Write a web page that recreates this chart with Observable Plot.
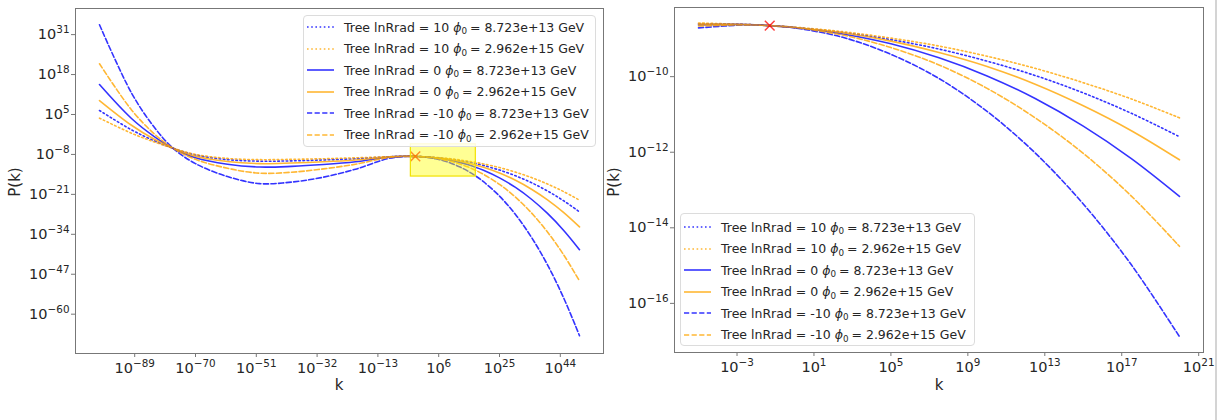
<!DOCTYPE html>
<html><head><meta charset="utf-8">
<script src="https://cdn.jsdelivr.net/npm/d3@7"></script>
<script src="https://cdn.jsdelivr.net/npm/@observablehq/plot@0.6"></script>
<style>
body{margin:0;background:#fff;}
#wrap{position:relative;width:1224px;height:420px;overflow:hidden;font-family:"DejaVu Sans",sans-serif;color:#262626;}
#wrap svg.plot{position:absolute;top:0;}
.legend{position:absolute;background:rgba(255,255,255,0.85);border:1px solid #dcdcdc;border-radius:4px;box-sizing:border-box;}
.row{position:absolute;left:0;height:20px;display:flex;align-items:center;font-size:12.5px;color:#262626;white-space:nowrap;}
.row svg{margin-left:3px;margin-right:10px;}
.lab{position:absolute;font-size:15px;color:#262626;white-space:nowrap;transform:translate(-50%,-50%);}
.rot{transform:translate(-50%,-50%) rotate(-90deg);}
.sub{font-size:0.7em;position:relative;top:0.3em;margin-right:3px;}
</style></head><body><div id="wrap"></div><script>
// ---------- data (log10 values) ----------
const logK = [-100,-90,-83,-77,-70,-60,-50,-40,-30,-20,-10,-5,-2.5,-1.3,0,2.5,5,7.5,10,12.5,15,17.5,20,25,30,35,40,45,50];
// lnRrad = 10, phi0 = 8.723e+13
const logP_r10_a  = [6.3,0.0,-3.5,-6,-8.2,-9.7,-10.2,-10.1,-9.8,-9.4,-8.8,-8.60,-8.62,-8.65,-8.70,-8.83,-9.02,-9.27,-9.59,-9.97,-10.43,-10.97,-11.59,-13.09,-14.95,-17.21,-19.9,-23.06,-26.7];
// lnRrad = 10, phi0 = 2.962e+15
const logP_r10_b  = [3.8,-1.1,-3.9,-6,-8.0,-9.3,-9.7,-9.6,-9.4,-9.1,-8.75,-8.58,-8.62,-8.65,-8.69,-8.81,-8.98,-9.19,-9.46,-9.78,-10.16,-10.59,-11.09,-12.28,-13.76,-15.53,-17.64,-20.08,-22.9];
// lnRrad = 0, phi0 = 8.723e+13
const logP_r0_a   = [14.75,3.7,-2.1,-6,-9.1,-11.2,-12.1,-11.9,-11.3,-10.4,-8.9,-8.63,-8.62,-8.65,-8.70,-8.87,-9.13,-9.50,-9.98,-10.58,-11.31,-12.17,-13.17,-15.63,-18.75,-22.59,-27.21,-32.66,-39.0];
// lnRrad = 0, phi0 = 2.962e+15
const logP_r0_b   = [9.55,1.5,-3.0,-6,-8.6,-10.3,-11.0,-10.8,-10.4,-9.8,-8.85,-8.61,-8.62,-8.65,-8.70,-8.84,-9.06,-9.36,-9.73,-10.20,-10.77,-11.43,-12.20,-14.07,-16.43,-19.32,-22.79,-26.86,-31.6];
// lnRrad = -10, phi0 = 8.723e+13
const logP_rm10_a = [34.2,12.0,1.0,-6,-11.0,-15.2,-17.5,-17.0,-15.4,-12.8,-9.4,-8.71,-8.63,-8.65,-8.71,-8.96,-9.41,-10.05,-10.92,-12.02,-13.37,-14.98,-16.88,-21.57,-27.57,-34.99,-43.95,-54.59,-67.0];
// lnRrad = -10, phi0 = 2.962e+15
const logP_rm10_b = [21.5,6.5,-1.2,-6,-9.6,-12.5,-14.1,-13.8,-12.7,-11.2,-9.05,-8.66,-8.63,-8.65,-8.70,-8.90,-9.23,-9.69,-10.31,-11.09,-12.03,-13.16,-14.49,-17.75,-21.91,-27.05,-33.25,-40.6,-49.2];

const seriesLnRrad = [10, 10, 0, 0, -10, -10];
const seriesPhi0 = ["8.723e+13", "2.962e+15", "8.723e+13", "2.962e+15", "8.723e+13", "2.962e+15"];
const seriesValues = [logP_r10_a, logP_r10_b, logP_r0_a, logP_r0_b, logP_rm10_a, logP_rm10_b];

const pivotLogK = -1.3, pivotLogP = -8.65;
const zoomBoxLogK = [-2.7, 17.6], zoomBoxLogP = [-15.2, -4.7];

const leftXTicks = [-89,-70,-51,-32,-13,6,25,44];
const leftYTicks = [31,18,5,-8,-21,-34,-47,-60];
const rightXTicks = [-3,1,5,9,13,17,21];
const rightYTicks = [-10,-12,-14,-16];
const rightKRange = [-5, 20];

// ---------- styles ----------
const seriesColor = ["blue","orange","blue","orange","blue","orange"];
const seriesDash = ["1.6 2.6","1.6 2.6",null,null,"5.2 2.4","5.2 2.4"];

// ---------- build ----------
const rows = [];
seriesValues.forEach((vals, s) => logK.forEach((lk, j) => rows.push({s, lk, k: 10 ** lk, p: 10 ** vals[j]})));
const rightRows = rows.filter(d => d.lk >= rightKRange[0] && d.lk <= rightKRange[1]);

function lineMarks(data) {
  return seriesValues.map((_, s) => Plot.line(data.filter(d => d.s === s), {
    x: "k", y: "p", stroke: seriesColor[s], strokeOpacity: 0.8, strokeWidth: 1.6,
    strokeDasharray: seriesDash[s] || undefined, curve: "catmull-rom"
  }));
}
const fmt = e => "10^" + e;
function axes(xt, yt) {
  return [
    Plot.axisX({ticks: xt.map(e => 10 ** e), tickFormat: d => fmt(Math.round(Math.log10(d))), tickSize: 4, tickPadding: 5, label: null, stroke: "#777"}),
    Plot.axisY({ticks: yt.map(e => 10 ** e), tickFormat: d => fmt(Math.round(Math.log10(d))), tickSize: 4, tickPadding: 2, label: null, stroke: "#777"})
  ];
}
const pivot = [{k: 10 ** pivotLogK, p: 10 ** pivotLogP}];
const common = {style: {fontFamily: "DejaVu Sans", fontSize: "14.5px", color: "#262626", background: "transparent", overflow: "visible"}};

const left = Plot.plot({
  ...common, width: 612, height: 420,
  marginLeft: 75, marginRight: 9, marginTop: 8, marginBottom: 67,
  x: {type: "log", domain: [10 ** -107.5, 10 ** 57.5], axis: null},
  y: {type: "log", domain: [10 ** -72.8, 10 ** 39.5], axis: null},
  marks: [
    ...lineMarks(rows),
    Plot.dot(pivot, {x: "k", y: "p", symbol: "times", r: 4.5, stroke: "red", strokeOpacity: 0.75, strokeWidth: 1.5}),
    Plot.rect([{x1: 10 ** zoomBoxLogK[0], x2: 10 ** zoomBoxLogK[1], y1: 10 ** zoomBoxLogP[0], y2: 10 ** zoomBoxLogP[1]}],
      {x1: "x1", x2: "x2", y1: "y1", y2: "y2", fill: "yellow", fillOpacity: 0.42, stroke: "#f2e200", strokeWidth: 1.2}),
    ...axes(leftXTicks, leftYTicks),
    Plot.frame({stroke: "#777"})
  ]
});
const right = Plot.plot({
  ...common, width: 612, height: 420,
  marginLeft: 62, marginRight: 21, marginTop: 7, marginBottom: 68,
  x: {type: "log", domain: [10 ** -6.25, 10 ** 21.25], axis: null},
  y: {type: "log", domain: [10 ** -17.3, 10 ** -8.17], axis: null},
  marks: [
    ...lineMarks(rightRows),
    Plot.dot(pivot, {x: "k", y: "p", symbol: "times", r: 4.5, stroke: "red", strokeOpacity: 0.75, strokeWidth: 1.5}),
    ...axes(rightXTicks, rightYTicks),
    Plot.frame({stroke: "#777"})
  ]
});

function supify(svg) {
  d3.select(svg).selectAll("text").each(function () {
    const t = this.textContent;
    if (t.startsWith("10^")) {
      const exp = t.slice(3).replace("-", "\u2212");
      const sel = d3.select(this);
      sel.text(null);
      sel.append("tspan").text("10");
      sel.append("tspan").attr("dy", "-6px").attr("font-size", "10.4px").text(exp);
    }
  });
}
const wrap = document.getElementById("wrap");
[left, right].forEach((svg, i) => {
  svg.classList.add("plot");
  svg.style.left = (i * 612) + "px";
  supify(svg);
  wrap.appendChild(svg);
});

function addLabel(text, x, y, rot) {
  const d = document.createElement("div");
  d.className = "lab" + (rot ? " rot" : "");
  d.style.left = x + "px"; d.style.top = y + "px";
  d.textContent = text;
  wrap.appendChild(d);
}
addLabel("P(k)", 15, 182, true);
addLabel("k", 339, 385);
addLabel("P(k)", 614, 182, true);
addLabel("k", 939, 385);

function addLegend(x, y, w, h, firstRow) {
  const box = document.createElement("div");
  box.className = "legend";
  Object.assign(box.style, {left: x + "px", top: y + "px", width: w + "px", height: h + "px"});
  seriesLnRrad.forEach((r, i) => {
    const row = document.createElement("div");
    row.className = "row";
    row.style.top = (firstRow + i * 21.5 - 10) + "px";
    const dash = seriesDash[i] ? `stroke-dasharray="${seriesDash[i]}"` : "";
    row.innerHTML = `<svg width="27" height="20"><line x1="0" x2="27" y1="10" y2="10" stroke="${seriesColor[i]}" stroke-opacity="0.8" stroke-width="1.6" ${dash}/></svg>` +
      `<span>Tree lnRrad = ${r} <i>ϕ</i><span class="sub">0</span>= ${seriesPhi0[i]} GeV</span>`;
    box.appendChild(row);
  });
  wrap.appendChild(box);
}
addLegend(303, 15, 293, 132, 11);
addLegend(680, 213, 295, 133, 13);

const border = document.createElement("div");
Object.assign(border.style, {position: "absolute", left: "1215px", top: "0px", width: "2px", height: "420px", background: "#d4d4d4"});
wrap.appendChild(border);
</script></body></html>
